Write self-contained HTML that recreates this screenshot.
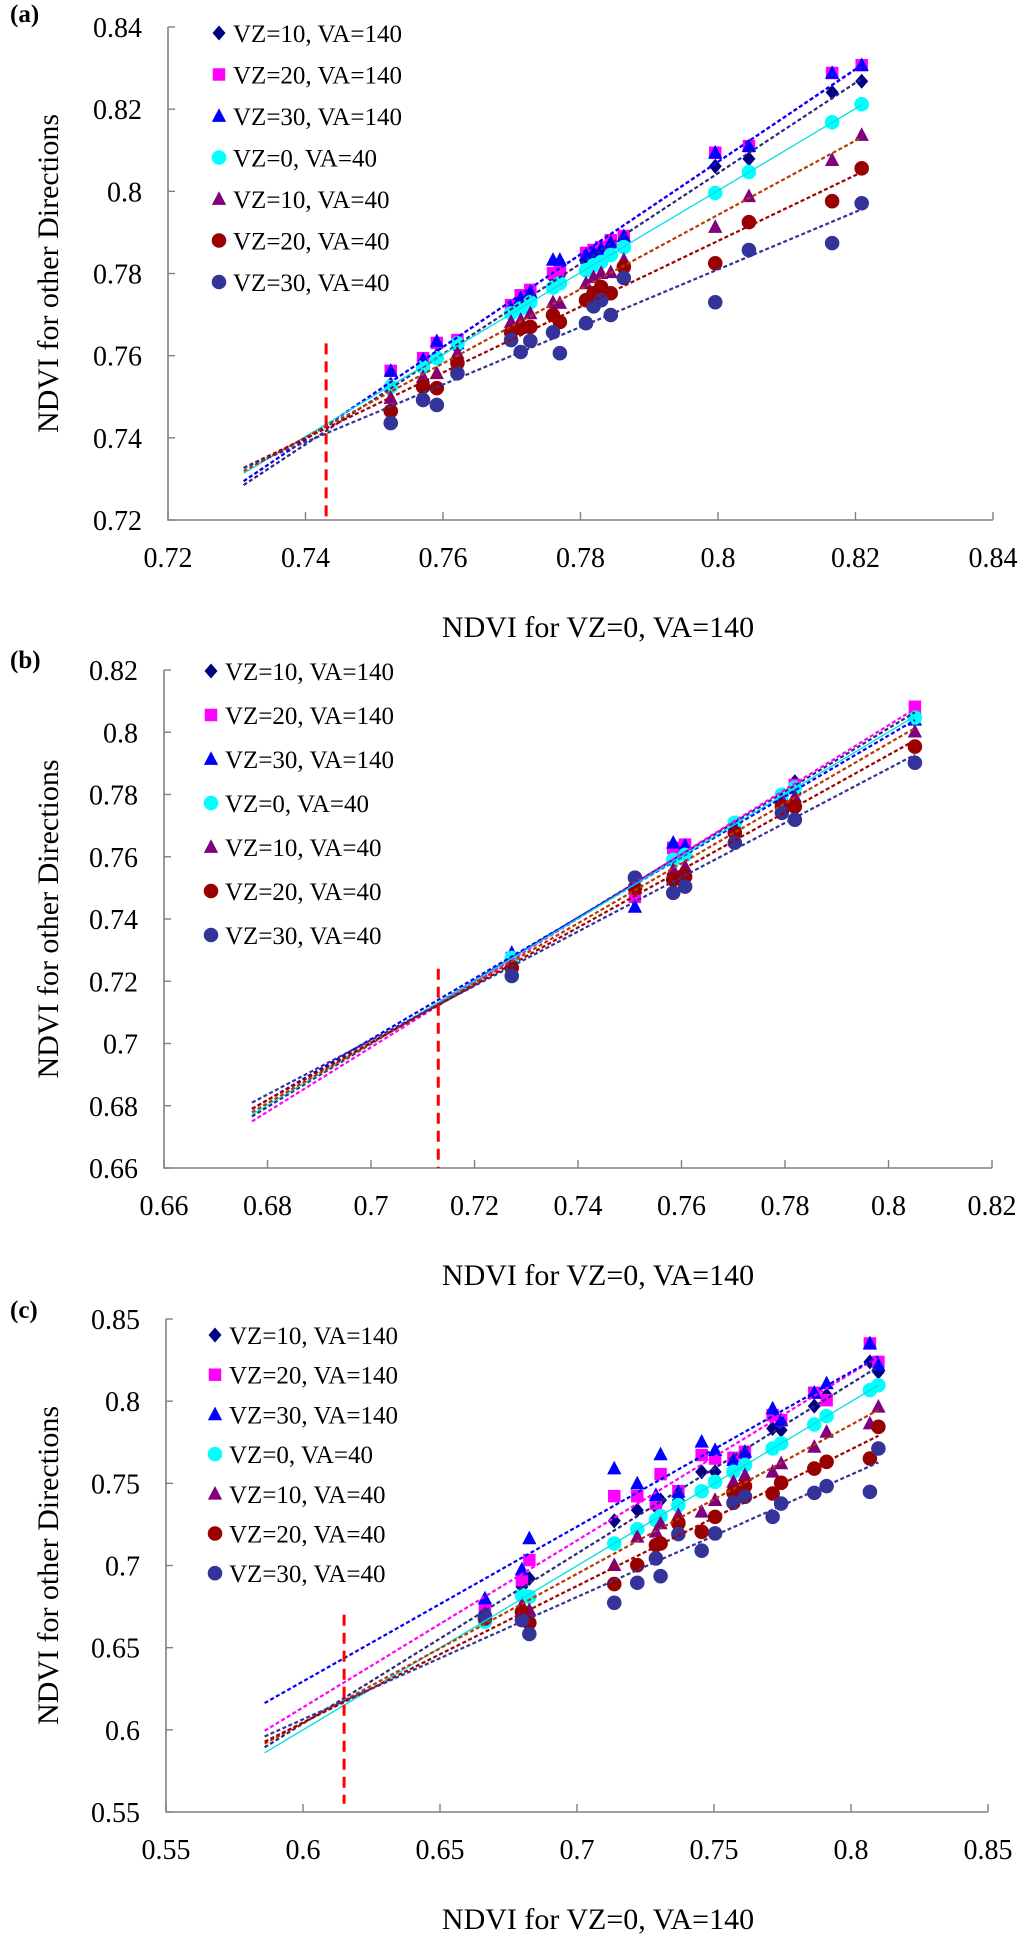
<!DOCTYPE html>
<html><head><meta charset="utf-8"><style>
body{margin:0;background:#fff}
svg{display:block;font-family:"Liberation Serif","Times New Roman",serif}
</style></head><body>
<svg id="fig" width="1024" height="1938" viewBox="0 0 1024 1938" xmlns="http://www.w3.org/2000/svg"></svg>
<script>
// ---------- shared ----------
const seriesLabels = ["VZ=10, VA=140","VZ=20, VA=140","VZ=30, VA=140","VZ=0, VA=40","VZ=10, VA=40","VZ=20, VA=40","VZ=30, VA=40"];

// ---------- panel (a) data ----------
const aX = [0.7524,0.7571,0.7591,0.7621,0.7699,0.7713,0.7727,0.7760,0.7770,0.7808,0.7819,0.7830,0.7844,0.7863,0.7996,0.8045,0.8166,0.8209];
const aDia = [0.7530,0.7575,0.7600,0.7620,0.7705,0.7725,0.7740,0.7790,0.7795,0.7830,0.7840,0.7850,0.7876,0.7880,0.8061,0.8079,0.8241,0.8268];
const aSq = [0.7563,0.7594,0.7631,0.7638,0.7723,0.7747,0.7760,0.7801,0.7808,0.7850,0.7857,0.7864,0.7881,0.7891,0.8094,0.8110,0.8288,0.8307];
const aTri = [0.7563,0.7590,0.7635,0.7630,0.7715,0.7740,0.7755,0.7833,0.7833,0.7845,0.7852,0.7860,0.7875,0.7891,0.8094,0.8110,0.8288,0.8307];
const aCyan = [0.7524,0.7572,0.7594,0.7630,0.7703,0.7715,0.7730,0.7766,0.7776,0.7808,0.7820,0.7828,0.7845,0.7864,0.7996,0.8047,0.8168,0.8212];
const aPtri = [0.7497,0.7548,0.7557,0.7606,0.7682,0.7687,0.7703,0.7730,0.7728,0.7776,0.7791,0.7801,0.7803,0.7833,0.7913,0.7988,0.8076,0.8137];
const aRed = [0.7465,0.7524,0.7521,0.7582,0.7657,0.7667,0.7670,0.7699,0.7682,0.7735,0.7752,0.7767,0.7752,0.7816,0.7825,0.7925,0.7976,0.8056];
const aNavy = [0.7436,0.7492,0.7480,0.7557,0.7638,0.7609,0.7636,0.7657,0.7606,0.7679,0.7720,0.7735,0.7699,0.7789,0.7730,0.7857,0.7874,0.7971];
const aXTicks = ["0.72","0.74","0.76","0.78","0.8","0.82","0.84"];
const aYTicks = ["0.72","0.74","0.76","0.78","0.8","0.82","0.84"];

// ---------- panel (b) data ----------
const bX = [0.7272,0.7510,0.7584,0.7607,0.7703,0.7794,0.7819,0.8051];
const bDia = [0.7270,0.7505,0.7613,0.7620,0.7700,0.7795,0.7841,0.8060];
const bSq = [0.7275,0.7471,0.7629,0.7639,0.7705,0.7795,0.7831,0.8082];
const bTri = [0.7291,0.7439,0.7645,0.7635,0.7660,0.7790,0.7820,0.8040];
const bCyan = [0.7275,0.7500,0.7590,0.7606,0.7709,0.7799,0.7822,0.8047];
const bPtri = [0.7260,0.7500,0.7558,0.7568,0.7687,0.7783,0.7793,0.8002];
const bRed = [0.7243,0.7500,0.7526,0.7536,0.7677,0.7761,0.7761,0.7954];
const bNavy = [0.7217,0.7533,0.7484,0.7504,0.7645,0.7741,0.7719,0.7902];
const bXTicks = ["0.66","0.68","0.7","0.72","0.74","0.76","0.78","0.8","0.82"];
const bYTicks = ["0.66","0.68","0.7","0.72","0.74","0.76","0.78","0.8","0.82"];

// ---------- panel (c) data ----------
const cX = [0.6664,0.6799,0.6826,0.7136,0.7220,0.7288,0.7305,0.7370,0.7455,0.7504,0.7571,0.7613,0.7714,0.7745,0.7866,0.7911,0.8069,0.8100];
const cDia = [0.6688,0.6870,0.6921,0.7272,0.7337,0.7357,0.7398,0.7398,0.7570,0.7570,0.7621,0.7661,0.7834,0.7824,0.7970,0.8036,0.8239,0.8178];
const cSq = [0.6739,0.6911,0.7033,0.7422,0.7422,0.7377,0.7556,0.7452,0.7672,0.7651,0.7655,0.7692,0.7915,0.7884,0.8051,0.8006,0.8351,0.8239];
const cTri = [0.6799,0.6976,0.7165,0.7590,0.7499,0.7428,0.7676,0.7448,0.7753,0.7702,0.7641,0.7692,0.7955,0.7884,0.8051,0.8108,0.8351,0.8219];
const cCyan = [0.6658,0.6820,0.6810,0.7134,0.7221,0.7276,0.7300,0.7367,0.7452,0.7509,0.7570,0.7611,0.7712,0.7743,0.7858,0.7909,0.8067,0.8097];
const cPtri = [0.6708,0.6759,0.6729,0.7002,0.7175,0.7205,0.7256,0.7307,0.7327,0.7398,0.7509,0.7550,0.7570,0.7621,0.7722,0.7813,0.7864,0.7966];
const cRed = [0.6678,0.6718,0.6651,0.6887,0.7002,0.7124,0.7134,0.7256,0.7205,0.7296,0.7444,0.7483,0.7438,0.7503,0.7590,0.7631,0.7651,0.7844];
const cNavy = [0.6692,0.6668,0.6583,0.6773,0.6895,0.7043,0.6935,0.7191,0.7090,0.7195,0.7381,0.7418,0.7296,0.7377,0.7442,0.7483,0.7448,0.7712];
const cXTicks = ["0.55","0.6","0.65","0.7","0.75","0.8","0.85"];
const cYTicks = ["0.55","0.6","0.65","0.7","0.75","0.8","0.85"];

// ---------- drawing ----------
const NS = "http://www.w3.org/2000/svg";
const svg = document.getElementById("fig");
function mk(tag, attrs, parent){
  const e = document.createElementNS(NS, tag);
  for (const k in attrs) e.setAttribute(k, attrs[k]);
  (parent || svg).appendChild(e);
  return e;
}
const markerColors = ["#000080","#ff00ff","#0000ff","#00ffff","#800080","#990000","#333399"];
const lineColors = ["#2a2a85","#ff00ff","#0000ff","#00e0e0","#b83a00","#a00000","#333399"];
const shapes = ["diamond","square","triangle","circle","triangle","circle","circle"];

function drawMarker(g, shape, cx, cy, color, s){
  let e;
  if (shape === "circle") e = mk("circle", {cx:cx, cy:cy, r:s*0.56, fill:color}, g);
  else if (shape === "square") e = mk("rect", {x:cx-s*0.48, y:cy-s*0.48, width:s*0.96, height:s*0.96, fill:color}, g);
  else if (shape === "triangle") e = mk("polygon", {points:`${cx},${cy-s*0.6} ${cx+s*0.55},${cy+s*0.45} ${cx-s*0.55},${cy+s*0.45}`, fill:color}, g);
  else e = mk("polygon", {points:`${cx},${cy-s*0.58} ${cx+s*0.5},${cy} ${cx},${cy+s*0.58} ${cx-s*0.5},${cy}`, fill:color}, g);
  return e;
}

function fit(xs, ys){
  const n = xs.length; let sx=0, sy=0, sxx=0, sxy=0;
  for (let i=0;i<n;i++){ sx+=xs[i]; sy+=ys[i]; sxx+=xs[i]*xs[i]; sxy+=xs[i]*ys[i]; }
  const m = (n*sxy - sx*sy)/(n*sxx - sx*sx);
  return {m:m, b:(sy - m*sx)/n};
}

function drawPanel(P){
  const g = mk("g", {});
  
  
  const xs = v => P.px0 + (v - P.xmin)/(P.xmax - P.xmin)*(P.px1 - P.px0);
  const ys = v => P.py0 - (v - P.ymin)/(P.ymax - P.ymin)*(P.py0 - P.py1);

  // panel label
  const lab = mk("text", {x:10, y:P.labelY, "font-size":25, "font-weight":"bold"}, g);
  lab.textContent = "(" + P.id + ")";
  
  

  // axes
  const ax = mk("path", {d:`M${P.px0},${P.py1} V${P.py0} H${P.px1}`, fill:"none", stroke:"#808080", "stroke-width":1.6}, g);
  
  

  // y ticks
  P.yticks.forEach(t => {
    const y = ys(parseFloat(t));
    mk("line", {x1:P.px0, x2:P.px0+7, y1:y, y2:y, stroke:"#808080", "stroke-width":1.4}, g);
    const tx = mk("text", {x:P.px0-26, y:y+10, "font-size":28, "text-anchor":"end"}, g);
    tx.textContent = t;
    
    
  });
  // x ticks
  P.xticks.forEach(t => {
    const x = xs(parseFloat(t));
    mk("line", {x1:x, x2:x, y1:P.py0, y2:P.py0-8, stroke:"#808080", "stroke-width":1.4}, g);
    const tx = mk("text", {x:x, y:P.py0+47, "font-size":28, "text-anchor":"middle"}, g);
    tx.textContent = t;
    
    
  });

  // axis titles
  const xt = mk("text", {x:598, y:P.py0+117, "font-size":30, "text-anchor":"middle"}, g);
  xt.textContent = "NDVI for VZ=0, VA=140";
  
  
  const cy = (P.py0 + P.py1)/2;
  const yt = mk("text", {x:0, y:0, "font-size":30, "text-anchor":"middle", transform:`translate(58,${cy}) rotate(-90)`}, g);
  yt.textContent = "NDVI for other Directions";
  
  

  // markers
  P.series.forEach((ser, si) => {
    const sg = mk("g", {}, g);
    
    
    ser.forEach((v, i) => {
      const m = drawMarker(sg, shapes[si], xs(P.x[i]), ys(v), markerColors[si], 13);
      
      
    });
  });

  // trend lines
  const xMax = Math.max.apply(null, P.x);
  P.series.forEach((ser, si) => {
    const f = fit(P.x, ser);
    const attrs = {x1:xs(P.fitStart), y1:ys(f.m*P.fitStart+f.b), x2:xs(xMax), y2:ys(f.m*xMax+f.b),
      stroke:lineColors[si], "stroke-width": si===3 ? 1.3 : 2.2};
    if (si !== 3) attrs["stroke-dasharray"] = "4 2.5";
    const l = mk("line", attrs, g);
    
    
  });

  // red vertical dashed line
  const rl = mk("line", {x1:xs(P.redX), x2:xs(P.redX), y1:ys(P.redTop), y2:ys(P.redBot), stroke:"#ff0000", "stroke-width":3, "stroke-dasharray":"11 7"}, g);
  
  

  // legend
  seriesLabels.forEach((txt, si) => {
    const y = P.legY + si*P.legStep;
    const lg = mk("g", {}, g);
    
    
    drawMarker(lg, shapes[si], P.legX, y, markerColors[si], 13);
    const t = mk("text", {x:P.legX+14, y:y+9, "font-size":25}, lg);
    t.textContent = txt;
  });
}

drawPanel({id:"a", px0:168, px1:993, py0:520, py1:27, xmin:0.72, xmax:0.84, ymin:0.72, ymax:0.84,
  xticks:aXTicks, yticks:aYTicks, x:aX, series:[aDia,aSq,aTri,aCyan,aPtri,aRed,aNavy],
  fitStart:0.731, redX:0.743, redTop:0.763, redBot:0.72, legX:219, legY:33, legStep:41.5, labelY:22});
drawPanel({id:"b", px0:164, px1:992, py0:1168, py1:670, xmin:0.66, xmax:0.82, ymin:0.66, ymax:0.82,
  xticks:bXTicks, yticks:bYTicks, x:bX, series:[bDia,bSq,bTri,bCyan,bPtri,bRed,bNavy],
  fitStart:0.677, redX:0.713, redTop:0.724, redBot:0.66, legX:211, legY:671, legStep:44, labelY:668});
drawPanel({id:"c", px0:166, px1:988, py0:1812, py1:1319, xmin:0.55, xmax:0.85, ymin:0.55, ymax:0.85,
  xticks:cXTicks, yticks:cYTicks, x:cX, series:[cDia,cSq,cTri,cCyan,cPtri,cRed,cNavy],
  fitStart:0.586, redX:0.615, redTop:0.67, redBot:0.555, legX:215, legY:1335, legStep:39.7, labelY:1318});
</script>
</body></html>
